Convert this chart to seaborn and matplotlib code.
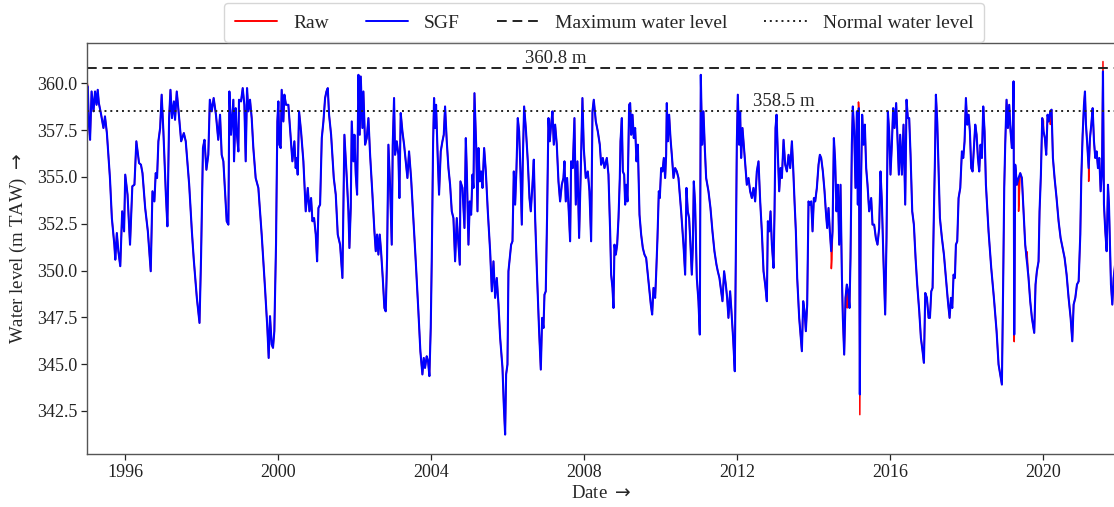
import numpy as np
import pandas as pd
import matplotlib
matplotlib.use("Agg")
import matplotlib.pyplot as plt
import matplotlib.dates as mdates
from matplotlib.ticker import FormatStrFormatter, MultipleLocator
import seaborn as sns

# ---------------- data (decimal year, water level in m TAW) ----------------
sgf_years = [
    1995.00, 1995.02, 1995.05, 1995.08, 1995.12, 1995.17, 1995.21, 1995.25, 1995.28, 1995.31,
    1995.37, 1995.43, 1995.47, 1995.52, 1995.60, 1995.65, 1995.715, 1995.74, 1995.78, 1995.82,
    1995.87, 1995.92, 1995.97, 1996.00, 1996.06, 1996.125, 1996.185, 1996.24, 1996.29, 1996.36,
    1996.41, 1996.45, 1996.52, 1996.59, 1996.665, 1996.71, 1996.76, 1996.795, 1996.83, 1996.865,
    1996.91, 1996.95, 1996.995, 1997.06, 1997.10, 1997.145, 1997.18, 1997.22, 1997.27, 1997.30,
    1997.345, 1997.40, 1997.46, 1997.53, 1997.58, 1997.67, 1997.74, 1997.79, 1997.87, 1997.94,
    1997.98, 1998.03, 1998.07, 1998.12, 1998.17, 1998.21, 1998.26, 1998.31, 1998.37, 1998.43,
    1998.477, 1998.52, 1998.564, 1998.651, 1998.695, 1998.721, 1998.764, 1998.825, 1998.843, 1998.886,
    1998.912, 1998.956, 1998.973, 1999.026, 1999.07, 1999.113, 1999.148, 1999.183, 1999.218, 1999.261,
    1999.305, 1999.348, 1999.409, 1999.479, 1999.566, 1999.653, 1999.714, 1999.749, 1999.784, 1999.828,
    1999.862, 1999.897, 1999.941, 1999.976, 2000.002, 2000.028, 2000.063, 2000.089, 2000.133, 2000.159,
    2000.202, 2000.263, 2000.307, 2000.368, 2000.42, 2000.455, 2000.481, 2000.507, 2000.542, 2000.594,
    2000.655, 2000.716, 2000.769, 2000.812, 2000.856, 2000.891, 2000.934, 2000.978, 2001.013, 2001.048,
    2001.091, 2001.135, 2001.178, 2001.222, 2001.257, 2001.292, 2001.326, 2001.379, 2001.449, 2001.501,
    2001.553, 2001.614, 2001.675, 2001.727, 2001.789, 2001.832, 2001.858, 2001.893, 2001.919, 2001.963,
    2001.989, 2002.024, 2002.059, 2002.094, 2002.128, 2002.155, 2002.198, 2002.224, 2002.268, 2002.311,
    2002.355, 2002.399, 2002.46, 2002.512, 2002.547, 2002.582, 2002.616, 2002.651, 2002.686, 2002.73,
    2002.773, 2002.808, 2002.843, 2002.878, 2002.921, 2002.965, 2002.991, 2003.026, 2003.052, 2003.096,
    2003.139, 2003.165, 2003.20, 2003.244, 2003.288, 2003.331, 2003.375, 2003.418, 2003.471, 2003.531,
    2003.593, 2003.662, 2003.714, 2003.767, 2003.802, 2003.836, 2003.88, 2003.915, 2003.95, 2003.985,
    2004.011, 2004.046, 2004.072, 2004.098, 2004.124, 2004.168, 2004.202, 2004.246, 2004.29, 2004.325,
    2004.359, 2004.403, 2004.447, 2004.49, 2004.534, 2004.577, 2004.621, 2004.664, 2004.708, 2004.743,
    2004.76, 2004.813, 2004.865, 2004.90, 2004.926, 2004.969, 2005.004, 2005.039, 2005.074, 2005.10,
    2005.126, 2005.17, 2005.205, 2005.231, 2005.266, 2005.301, 2005.336, 2005.379, 2005.423, 2005.475,
    2005.536, 2005.58, 2005.623, 2005.667, 2005.71, 2005.754, 2005.798, 2005.859, 2005.893, 2005.928,
    2005.954, 2005.989, 2006.015, 2006.05, 2006.085, 2006.12, 2006.155, 2006.19, 2006.225, 2006.259,
    2006.294, 2006.329, 2006.364, 2006.39, 2006.425, 2006.469, 2006.521, 2006.565, 2006.599, 2006.643,
    2006.678, 2006.713, 2006.765, 2006.817, 2006.861, 2006.896, 2006.931, 2006.957, 2006.991, 2007.026,
    2007.061, 2007.096, 2007.131, 2007.166, 2007.201, 2007.236, 2007.279, 2007.323, 2007.366, 2007.41,
    2007.453, 2007.48, 2007.514, 2007.549, 2007.584, 2007.628, 2007.654, 2007.697, 2007.741, 2007.776,
    2007.819, 2007.863, 2007.906, 2007.95, 2007.985, 2008.037, 2008.09, 2008.133, 2008.177, 2008.212,
    2008.246, 2008.299, 2008.351, 2008.403, 2008.438, 2008.482, 2008.525, 2008.586, 2008.629, 2008.673,
    2008.699, 2008.734, 2008.76, 2008.786, 2008.821, 2008.856, 2008.891, 2008.925, 2008.943, 2008.978,
    2009.004, 2009.039, 2009.065, 2009.091, 2009.126, 2009.152, 2009.169, 2009.196, 2009.222, 2009.257,
    2009.291, 2009.326, 2009.361, 2009.396, 2009.44, 2009.483, 2009.527, 2009.57, 2009.614, 2009.649,
    2009.692, 2009.736, 2009.771, 2009.806, 2009.849, 2009.875, 2009.91, 2009.945, 2009.971, 2010.006,
    2010.041, 2010.076, 2010.111, 2010.137, 2010.154, 2010.18, 2010.215, 2010.25, 2010.285, 2010.329,
    2010.372, 2010.416, 2010.459, 2010.529, 2010.59, 2010.634, 2010.668, 2010.703, 2010.738, 2010.773,
    2010.808, 2010.834, 2010.86, 2010.895, 2010.939, 2010.982, 2011.017, 2011.043, 2011.078, 2011.113,
    2011.148, 2011.183, 2011.244, 2011.296, 2011.348, 2011.40, 2011.453, 2011.488, 2011.531, 2011.575,
    2011.61, 2011.653, 2011.697, 2011.732, 2011.766, 2011.81, 2011.845, 2011.888, 2011.932, 2011.967,
    2011.985, 2012.011, 2012.046, 2012.072, 2012.098, 2012.133, 2012.185, 2012.246, 2012.29, 2012.333,
    2012.377, 2012.42, 2012.464, 2012.507, 2012.551, 2012.595, 2012.638, 2012.682, 2012.725, 2012.769,
    2012.795, 2012.83, 2012.865, 2012.90, 2012.943, 2012.969, 2012.995, 2013.022, 2013.056, 2013.091,
    2013.126, 2013.161, 2013.205, 2013.248, 2013.292, 2013.335, 2013.379, 2013.423, 2013.457, 2013.492,
    2013.527, 2013.562, 2013.614, 2013.649, 2013.684, 2013.719, 2013.754, 2013.788, 2013.823, 2013.858,
    2013.893, 2013.928, 2013.963, 2013.998, 2014.033, 2014.076, 2014.12, 2014.155, 2014.189, 2014.233,
    2014.277, 2014.311, 2014.346, 2014.381, 2014.416, 2014.451, 2014.486, 2014.521, 2014.555, 2014.59,
    2014.625, 2014.66, 2014.695, 2014.73, 2014.756, 2014.791, 2014.826, 2014.86, 2014.895, 2014.93,
    2014.956, 2014.991, 2015.017, 2015.052, 2015.087, 2015.122, 2015.148, 2015.174, 2015.20, 2015.226,
    2015.261, 2015.296, 2015.331, 2015.366, 2015.401, 2015.444, 2015.497, 2015.532, 2015.575, 2015.619,
    2015.662, 2015.706, 2015.741, 2015.776, 2015.819, 2015.863, 2015.898, 2015.933, 2015.967, 2016.002,
    2016.037, 2016.072, 2016.107, 2016.15, 2016.185, 2016.22, 2016.255, 2016.299, 2016.342, 2016.386,
    2016.421, 2016.455, 2016.49, 2016.525, 2016.569, 2016.612, 2016.656, 2016.699, 2016.752, 2016.795,
    2016.839, 2016.874, 2016.909, 2016.952, 2016.996, 2017.031, 2017.066, 2017.10, 2017.135, 2017.161,
    2017.187, 2017.222, 2017.257, 2017.292, 2017.344, 2017.397, 2017.449, 2017.501, 2017.545, 2017.58,
    2017.615, 2017.649, 2017.684, 2017.71, 2017.745, 2017.78, 2017.824, 2017.867, 2017.902, 2017.937,
    2017.972, 2018.007, 2018.042, 2018.076, 2018.111, 2018.146, 2018.181, 2018.216, 2018.251, 2018.286,
    2018.32, 2018.355, 2018.39, 2018.425, 2018.46, 2018.495, 2018.564, 2018.634, 2018.704, 2018.774,
    2018.826, 2018.87, 2018.913, 2018.948, 2018.974, 2019.0, 2019.035, 2019.07, 2019.105, 2019.14,
    2019.175, 2019.201, 2019.218, 2019.236, 2019.262, 2019.305, 2019.349, 2019.393, 2019.436, 2019.48,
    2019.523, 2019.567, 2019.61, 2019.654, 2019.698, 2019.759, 2019.793, 2019.828, 2019.872, 2019.898,
    2019.933, 2019.968, 2020.003, 2020.037, 2020.072, 2020.107, 2020.142, 2020.177, 2020.212, 2020.247,
    2020.29, 2020.342, 2020.395, 2020.447, 2020.499, 2020.552, 2020.604, 2020.656, 2020.709, 2020.752,
    2020.787, 2020.831, 2020.874, 2020.918, 2020.961, 2020.987, 2021.022, 2021.057, 2021.083, 2021.109,
    2021.144, 2021.179, 2021.214, 2021.249, 2021.284, 2021.319, 2021.353, 2021.388, 2021.423, 2021.458,
    2021.493, 2021.528, 2021.554, 2021.58, 2021.615, 2021.65, 2021.685, 2021.711, 2021.737, 2021.763,
    2021.798, 2021.833, 2021.87,
]

sgf_levels = [
    359.80, 359.83, 357.79, 356.98, 359.56, 358.50, 359.56, 358.85, 359.65, 358.94,
    358.32, 357.61, 358.23, 357.34, 354.94, 352.80, 351.38, 350.58, 352.00, 351.03,
    350.23, 353.16, 352.09, 355.12, 354.05, 351.38, 354.50, 354.58, 356.90, 355.74,
    355.65, 355.20, 353.34, 352.09, 349.96, 354.23, 353.69, 355.20, 354.94, 356.90,
    357.61, 359.39, 357.43, 354.05, 352.36, 358.14, 359.65, 358.14, 359.03, 358.05,
    359.56, 358.32, 356.90, 357.34, 356.90, 354.58, 352.09, 350.58, 348.54, 347.20,
    350.67, 356.54, 356.98, 355.38, 356.18, 359.12, 358.50, 359.21, 358.32, 356.98,
    358.32, 356.18, 355.83, 352.63, 352.45, 359.56, 357.25, 359.12, 355.83, 358.67,
    357.43, 356.36, 359.12, 359.03, 359.74, 358.85, 355.83, 359.74, 358.50, 359.12,
    358.14, 356.54, 354.94, 354.41, 351.92, 349.07, 346.93, 345.33, 347.56, 346.05,
    345.87, 346.76, 351.38, 357.96, 359.03, 356.72, 356.54, 359.65, 357.96, 359.39,
    358.85, 358.85, 357.61, 355.83, 356.90, 355.47, 356.01, 355.12, 358.50, 357.43,
    355.83, 353.16, 354.41, 353.16, 353.87, 352.63, 352.80, 351.92, 350.49, 353.34,
    353.52, 357.07, 357.96, 359.21, 359.56, 359.74, 358.32, 357.25, 354.94, 354.05,
    351.92, 351.38, 349.60, 357.25, 354.94, 353.16, 351.20, 353.34, 357.96, 355.83,
    357.25, 355.12, 354.05, 360.45, 357.25, 360.36, 357.61, 359.56, 356.72, 357.07,
    358.14, 356.18, 354.05, 352.09, 351.03, 351.92, 350.85, 351.92, 351.03, 349.60,
    348.00, 347.82, 350.67, 356.72, 354.58, 351.38, 356.72, 359.21, 356.18, 356.90,
    356.18, 353.87, 358.41, 357.43, 356.72, 355.83, 354.94, 356.36, 354.94, 352.80,
    350.49, 347.82, 345.69, 344.45, 345.33, 344.80, 345.42, 345.16, 344.36, 346.93,
    350.49, 356.72, 359.21, 357.61, 358.85, 356.01, 354.05, 356.36, 356.90, 357.25,
    358.76, 356.90, 355.47, 354.58, 353.16, 352.80, 350.49, 352.80, 351.38, 350.31,
    354.76, 354.41, 352.27, 357.07, 355.29, 351.38, 353.69, 352.98, 355.12, 354.41,
    359.47, 356.72, 353.16, 356.54, 354.76, 355.29, 354.41, 356.54, 355.29, 353.16,
    351.03, 348.89, 350.49, 348.54, 349.60, 348.18, 346.40, 344.80, 342.84, 341.24,
    344.45, 344.98, 349.96, 350.67, 351.38, 351.56, 355.29, 353.52, 355.47, 358.14,
    357.43, 355.29, 352.45, 355.83, 358.76, 357.61, 355.83, 353.87, 353.16, 354.58,
    355.92, 352.80, 349.60, 346.76, 344.71, 347.47, 346.93, 348.71, 348.89, 352.98,
    358.14, 356.90, 357.79, 358.50, 356.72, 357.79, 356.72, 354.76, 353.69, 354.58,
    354.94, 355.83, 353.69, 354.94, 353.52, 351.56, 355.83, 355.47, 358.14, 353.52,
    355.83, 351.74, 355.29, 359.21, 356.54, 354.94, 355.29, 354.23, 351.56, 358.50,
    359.12, 357.96, 357.43, 356.72, 355.65, 356.01, 355.47, 356.01, 355.12, 352.09,
    349.78, 349.07, 348.00, 351.38, 350.85, 351.38, 352.80, 354.94, 356.90, 358.14,
    355.29, 355.12, 353.52, 354.58, 353.69, 356.90, 358.85, 358.94, 357.25, 358.32,
    357.07, 357.61, 355.83, 356.72, 352.98, 351.92, 351.20, 350.85, 350.67, 349.96,
    349.07, 348.18, 347.65, 349.07, 348.54, 349.78, 351.74, 354.23, 353.87, 355.47,
    355.29, 356.01, 354.94, 356.18, 358.94, 356.90, 358.32, 357.07, 356.18, 354.94,
    355.47, 355.29, 354.94, 353.16, 351.38, 349.78, 354.41, 353.16, 352.80, 351.38,
    349.78, 351.20, 354.76, 353.52, 349.60, 348.36, 346.58, 360.45, 356.72, 358.50,
    356.54, 354.94, 354.23, 353.34, 352.09, 351.03, 350.31, 349.96, 349.60, 348.89,
    348.36, 349.96, 349.25, 348.54, 347.47, 348.89, 347.82, 346.40, 344.62, 352.27,
    356.72, 359.39, 356.72, 358.50, 356.01, 357.61, 356.18, 354.58, 354.94, 354.23,
    353.87, 354.41, 353.69, 355.29, 355.83, 353.69, 352.09, 349.96, 349.25, 348.36,
    352.63, 352.09, 353.16, 351.38, 350.14, 353.16, 357.61, 358.32, 356.18, 354.23,
    355.47, 354.94, 356.98, 355.65, 355.29, 356.18, 355.47, 356.90, 355.47, 353.69,
    352.09, 349.60, 347.47, 346.58, 345.69, 348.36, 347.82, 346.76, 348.18, 353.69,
    353.52, 353.69, 352.09, 353.87, 353.69, 354.41, 355.65, 356.18, 356.01, 355.29,
    354.23, 353.16, 352.27, 353.34, 352.09, 351.03, 352.09, 357.07, 355.83, 353.16,
    354.58, 351.38, 354.58, 349.78, 347.47, 345.51, 348.54, 349.25, 348.89, 348.00,
    350.67, 356.72, 358.76, 357.43, 354.41, 358.50, 353.52, 358.67, 343.38, 354.05,
    358.32, 356.72, 357.79, 355.47, 354.58, 353.16, 353.87, 352.45, 352.45, 351.74,
    351.38, 352.27, 355.29, 353.69, 350.49, 347.65, 351.74, 358.50, 357.43, 355.12,
    356.72, 358.67, 357.61, 358.94, 357.07, 355.12, 357.25, 355.12, 357.79, 353.52,
    359.12, 358.14, 358.14, 356.18, 353.16, 352.45, 350.67, 349.25, 347.82, 346.40,
    345.69, 345.07, 348.80, 348.54, 347.47, 347.47, 348.89, 349.07, 353.16, 355.83,
    359.39, 357.96, 355.29, 352.80, 351.74, 350.85, 349.60, 348.36, 347.47, 348.54,
    348.00, 349.78, 349.60, 351.38, 351.56, 353.87, 354.41, 356.36, 356.01, 356.90,
    359.21, 357.79, 358.32, 357.43, 355.47, 355.29, 356.54, 357.79, 357.25, 356.01,
    355.29, 356.72, 356.01, 358.76, 357.43, 354.58, 352.09, 350.14, 348.54, 346.76,
    344.98, 344.45, 343.91, 349.60, 354.41, 356.72, 359.12, 357.61, 358.85, 357.43,
    356.54, 357.79, 360.10, 346.58, 355.65, 354.58, 354.94, 355.20, 354.94, 353.16,
    351.38, 350.49, 349.60, 348.36, 347.47, 346.67, 349.25, 349.96, 350.49, 353.16,
    355.12, 358.14, 357.43, 357.07, 356.18, 358.32, 357.96, 358.50, 358.59, 356.01,
    354.94, 353.87, 352.63, 351.74, 351.20, 350.67, 349.78, 348.54, 347.47, 346.22,
    348.18, 348.54, 349.25, 349.42, 351.92, 354.94, 357.25, 358.85, 359.56, 357.79,
    356.72, 355.47, 357.07, 357.79, 358.67, 356.90, 356.01, 356.36, 355.47, 356.01,
    354.23, 355.29, 360.63, 353.52, 352.09, 351.03, 354.58, 353.52, 351.38, 349.25,
    348.18, 349.60, 350.30,
]

# Raw measurements that deviate from the filtered (SGF) series
raw_spike_years = [1995.00, 2014.455, 2014.47, 2014.87, 2015.165, 2015.20, 2019.236,
                   2019.35, 2019.57, 2020.00, 2020.18, 2021.18, 2021.554]
raw_spike_levels = [360.10, 350.10, 350.60, 348.00, 359.00, 342.30, 346.20,
                    353.16, 351.00, 358.00, 357.80, 354.76, 361.16]

max_level = 360.8
normal_level = 358.5
max_label = "360.8 m"
normal_label = "358.5 m"
legend_labels = ["Raw", "SGF", "Maximum water level", "Normal water level"]


def to_date(y):
    yr = int(np.floor(y))
    start = pd.Timestamp(yr, 1, 1)
    span = (pd.Timestamp(yr + 1, 1, 1) - start).days
    return start + pd.Timedelta(days=(y - yr) * span)


sgf = pd.DataFrame({"year": sgf_years, "level": sgf_levels})
spikes = pd.DataFrame({"year": raw_spike_years, "level": raw_spike_levels})
raw = (pd.concat([sgf, spikes]).drop_duplicates("year", keep="last")
       .sort_values("year").reset_index(drop=True))
sgf["date"] = sgf["year"].map(to_date)
raw["date"] = raw["year"].map(to_date)

# ---------------- style ----------------
sns.set_theme(style="ticks")
plt.rcParams["font.family"] = ["Liberation Serif", "DejaVu Serif"]
plt.rcParams["font.size"] = 13
plt.rcParams["mathtext.fontset"] = "dejavusans"

fig = plt.figure(figsize=(11.14, 5.07), dpi=100)
ax = fig.add_axes([0.0781, 0.1045, 0.9225, 0.8107])

sns.lineplot(data=raw, x="date", y="level", ax=ax, color="red", lw=1.1,
             estimator=None, sort=False)
sns.lineplot(data=sgf, x="date", y="level", ax=ax, color="blue", lw=1.5,
             estimator=None, sort=False)
ax.axhline(max_level, color="#222222", ls=(0, (5, 3)), lw=1.4)
ax.axhline(normal_level, color="#222222", ls=(0, (1, 2)), lw=1.4)

ax.text(to_date(2007.24), max_level + 0.05, max_label, ha="center", va="bottom", fontsize=13.5)
ax.text(to_date(2013.2), normal_level + 0.05, normal_label, ha="center", va="bottom", fontsize=13.5)

ax.set_xlim(to_date(1995.0), to_date(2021.86))
ax.set_ylim(340.2, 362.15)
ax.xaxis.set_major_locator(mdates.YearLocator(4))
ax.xaxis.set_major_formatter(mdates.DateFormatter("%Y"))
ax.yaxis.set_major_locator(MultipleLocator(2.5))
ax.yaxis.set_major_formatter(FormatStrFormatter("%.1f"))
ax.tick_params(labelsize=13, length=4, width=0.9, colors="#222222", pad=3)
for s in ["left", "bottom", "top"]:
    ax.spines[s].set_color("#555555")
    ax.spines[s].set_linewidth(1.0)
ax.spines["right"].set_visible(False)

ax.set_xlabel(r"Date $\rightarrow$", fontsize=13.5, labelpad=3)
ax.set_ylabel(r"Water level (m TAW) $\rightarrow$", fontsize=13.5, labelpad=6)

handles = [
    plt.Line2D([], [], color="red", lw=1.4),
    plt.Line2D([], [], color="blue", lw=1.4),
    plt.Line2D([], [], color="#222222", ls=(0, (5, 3)), lw=1.4),
    plt.Line2D([], [], color="#222222", ls=(0, (1, 2)), lw=1.4),
]
ax.legend(handles, legend_labels, loc="lower center", bbox_to_anchor=(0.503, 0.997),
          ncol=4, frameon=True, fontsize=14, handlelength=2.2, columnspacing=1.9,
          borderpad=0.55, borderaxespad=0.1, edgecolor="#cccccc", fancybox=True)

fig.savefig("out.png", dpi=100)
